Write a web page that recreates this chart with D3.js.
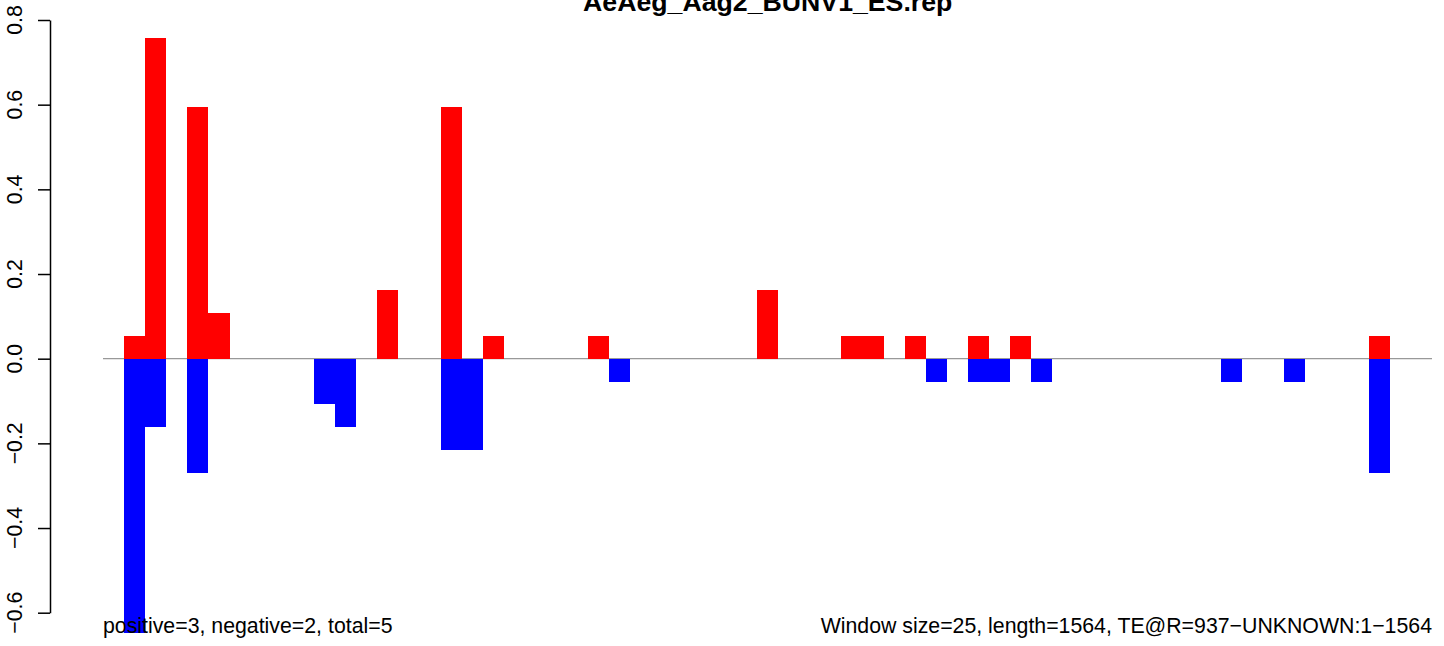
<!DOCTYPE html>
<html lang="en">
<head>
    <meta charset="UTF-8">
    <title>AeAeg_Aag2_BUNV1_ES.rep</title>
    <script src="https://d3js.org/d3.v7.min.js"></script>
    <style>
        body { margin: 0; background: #fff; }
        text { font-family: "Liberation Sans", Arial, Helvetica, sans-serif; fill: #000; }
    </style>
</head>
<body>
    <div id="chart"></div>
    <script>
        // window size 25 bp, 63 windows over 1564 bp
        var windowSize = 25;
        var nWindows = 63;
        var title = "AeAeg_Aag2_BUNV1_ES.rep";
        var leftNote = "positive=3, negative=2, total=5";
        var rightNote = "Window size=25, length=1564, TE@R=937\u2212UNKNOWN:1\u22121564";
        var yTicks = [-0.6, -0.4, -0.2, 0.0, 0.2, 0.4, 0.6, 0.8];

        // value per window (positive strand / negative strand)
        var positive = [
            0, 0.054, 0.757, 0, 0.595, 0.108, 0, 0, 0, 0,
            0, 0, 0, 0.162, 0, 0, 0.595, 0, 0.054, 0,
            0, 0, 0, 0.054, 0, 0, 0, 0, 0, 0,
            0, 0.162, 0, 0, 0, 0.054, 0.054, 0, 0.054, 0,
            0, 0.054, 0, 0.054, 0, 0, 0, 0, 0, 0,
            0, 0, 0, 0, 0, 0, 0, 0, 0, 0,
            0.054, 0, 0
        ];
        var negative = [
            0, -0.649, -0.162, 0, -0.27, 0, 0, 0, 0, 0,
            -0.108, -0.162, 0, 0, 0, 0, -0.216, -0.216, 0, 0,
            0, 0, 0, 0, -0.054, 0, 0, 0, 0, 0,
            0, 0, 0, 0, 0, 0, 0, 0, 0, -0.054,
            0, -0.054, -0.054, 0, -0.054, 0, 0, 0, 0, 0,
            0, 0, 0, -0.054, 0, 0, -0.054, 0, 0, 0,
            -0.27, 0, 0
        ];

        var width = 1444, height = 646;

        var svg = d3.select("#chart")
            .append("svg")
            .attr("width", width)
            .attr("height", height);

        var x = d3.scaleLinear()
            .domain([0, nWindows * windowSize])
            .range([103, 1432]);

        var y = d3.scaleLinear()
            .domain([-0.6, 0.8])
            .range([612.7, 20]);

        // zero line
        svg.append("line")
            .attr("x1", x(0))
            .attr("x2", x(nWindows * windowSize))
            .attr("y1", y(0))
            .attr("y2", y(0))
            .style("stroke", "#999")
            .style("stroke-width", 1.3);

        var bars = positive.map(function(v, i) { return {i: i, v: v}; })
            .concat(negative.map(function(v, i) { return {i: i, v: v}; }))
            .filter(function(d) { return d.v !== 0; });

        svg.selectAll(".bar")
            .data(bars)
            .enter()
            .append("rect")
            .attr("class", "bar")
            .attr("x", function(d) { return x(d.i * windowSize); })
            .attr("width", function(d) { return x((d.i + 1) * windowSize) - x(d.i * windowSize); })
            .attr("y", function(d) { return y(Math.max(0, d.v)); })
            .attr("height", function(d) { return Math.abs(y(d.v) - y(0)); })
            .style("fill", function(d) { return d.v > 0 ? "#ff0000" : "#0000ff"; })
            .attr("shape-rendering", "crispEdges");

        // y axis, R style
        var yAxis = svg.append("g")
            .attr("transform", "translate(50,0)")
            .call(d3.axisLeft(y).tickValues(yTicks).tickSize(12).tickSizeOuter(0).tickFormat(""));
        yAxis.selectAll("path, line").style("stroke", "#000").style("stroke-width", 1.5);

        svg.selectAll(".ylab")
            .data(yTicks)
            .enter()
            .append("text")
            .attr("class", "ylab")
            .attr("transform", function(d) { return "translate(22," + y(d) + ") rotate(-90)"; })
            .attr("text-anchor", "middle")
            .style("font-size", "21.3px")
            .text(d3.format(".1f"));

        svg.append("text")
            .attr("x", 767.7)
            .attr("y", 11)
            .attr("text-anchor", "middle")
            .style("font-size", "26.7px")
            .style("font-weight", "bold")
            .text(title);

        svg.append("text")
            .attr("x", 103)
            .attr("y", 633)
            .style("font-size", "21.3px")
            .text(leftNote);

        svg.append("text")
            .attr("x", 1432)
            .attr("y", 633)
            .attr("text-anchor", "end")
            .style("font-size", "21.3px")
            .text(rightNote);
    </script>
</body>
</html>
